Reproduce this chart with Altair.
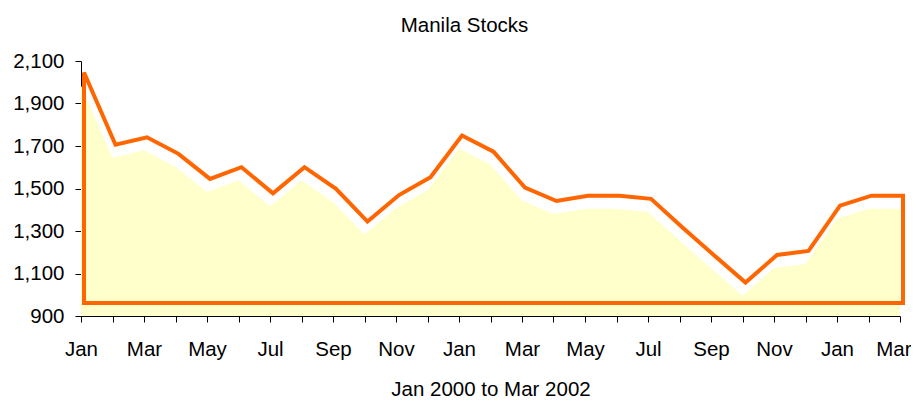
import json
import altair as alt
import pandas as pd

months = ["Jan", "Feb", "Mar", "Apr", "May", "Jun", "Jul", "Aug", "Sep", "Oct", "Nov", "Dec",
          "Jan", "Feb", "Mar", "Apr", "May", "Jun", "Jul", "Aug", "Sep", "Oct", "Nov", "Dec",
          "Jan", "Feb", "Mar"]
values = [1985, 1645, 1680, 1602, 1484, 1539, 1416, 1539, 1437, 1283, 1408, 1492,
          1688, 1612, 1443, 1380, 1405, 1405, 1390, 1255, 1125, 996, 1126, 1145,
          1358, 1405, 1405]
y_ticks = [900, 1100, 1300, 1500, 1700, 1900, 2100]

df = pd.DataFrame({"i": list(range(len(values))), "month": months, "value": values})

last = len(values) - 1
label_expr = f"datum.value % 2 == 0 ? {json.dumps(months)}[datum.value] : ''"

FONT = "Liberation Sans"
FS = 20.5

x = alt.X("i:Q",
          scale=alt.Scale(domain=[0, last], nice=False, zero=False),
          axis=alt.Axis(title="Jan 2000 to Mar 2002", values=list(range(len(values))),
                        labelExpr=label_expr, labelFlush=False, labelOverlap=False,
                        labelAlign={"condition": {"test": f"datum.value == {last}", "value": "right"},
                                    "value": "center"},
                        labelOffset={"condition": {"test": f"datum.value == {last}", "value": 11},
                                     "value": 0},
                        grid=False, tickSize=6, labelPadding=17, titlePadding=20))
y = alt.Y("value:Q",
          scale=alt.Scale(domain=[900, 2100], nice=False, zero=False),
          axis=alt.Axis(title=None, values=y_ticks, format=",.0f", grid=False,
                        tickSize=6, labelPadding=11, labelOverlap=False))

base = alt.Chart(df)

fill = base.mark_area(color="#FFFFCC", opacity=1).encode(x=x, y=y, y2=alt.datum(900))
outline = base.mark_area(fill="#FFFFFF", fillOpacity=0, stroke="#FF6600", strokeWidth=4,
                         strokeJoin="miter", xOffset=3, yOffset=-13, y2Offset=-13).encode(
    x=x, y=y, y2=alt.datum(900))

chart = (fill + outline).properties(
    width=819, height=255,
    title=alt.TitleParams("Manila Stocks", fontSize=FS, font=FONT, fontWeight="normal",
                          color="#000000", offset=15, dx=-26),
    autosize=alt.AutoSizeParams(type="none"),
    padding={"left": 73, "top": 53, "right": 11, "bottom": 84},
).configure_view(stroke=None).configure_axis(
    labelFont=FONT, titleFont=FONT, labelFontSize=FS, titleFontSize=FS,
    labelColor="#000000", titleColor="#000000", titleFontWeight="normal",
    domainColor="#000000", tickColor="#000000", domainWidth=1, tickWidth=1,
)

chart.save("out.html", embed_options={"renderer": "svg", "actions": False})
